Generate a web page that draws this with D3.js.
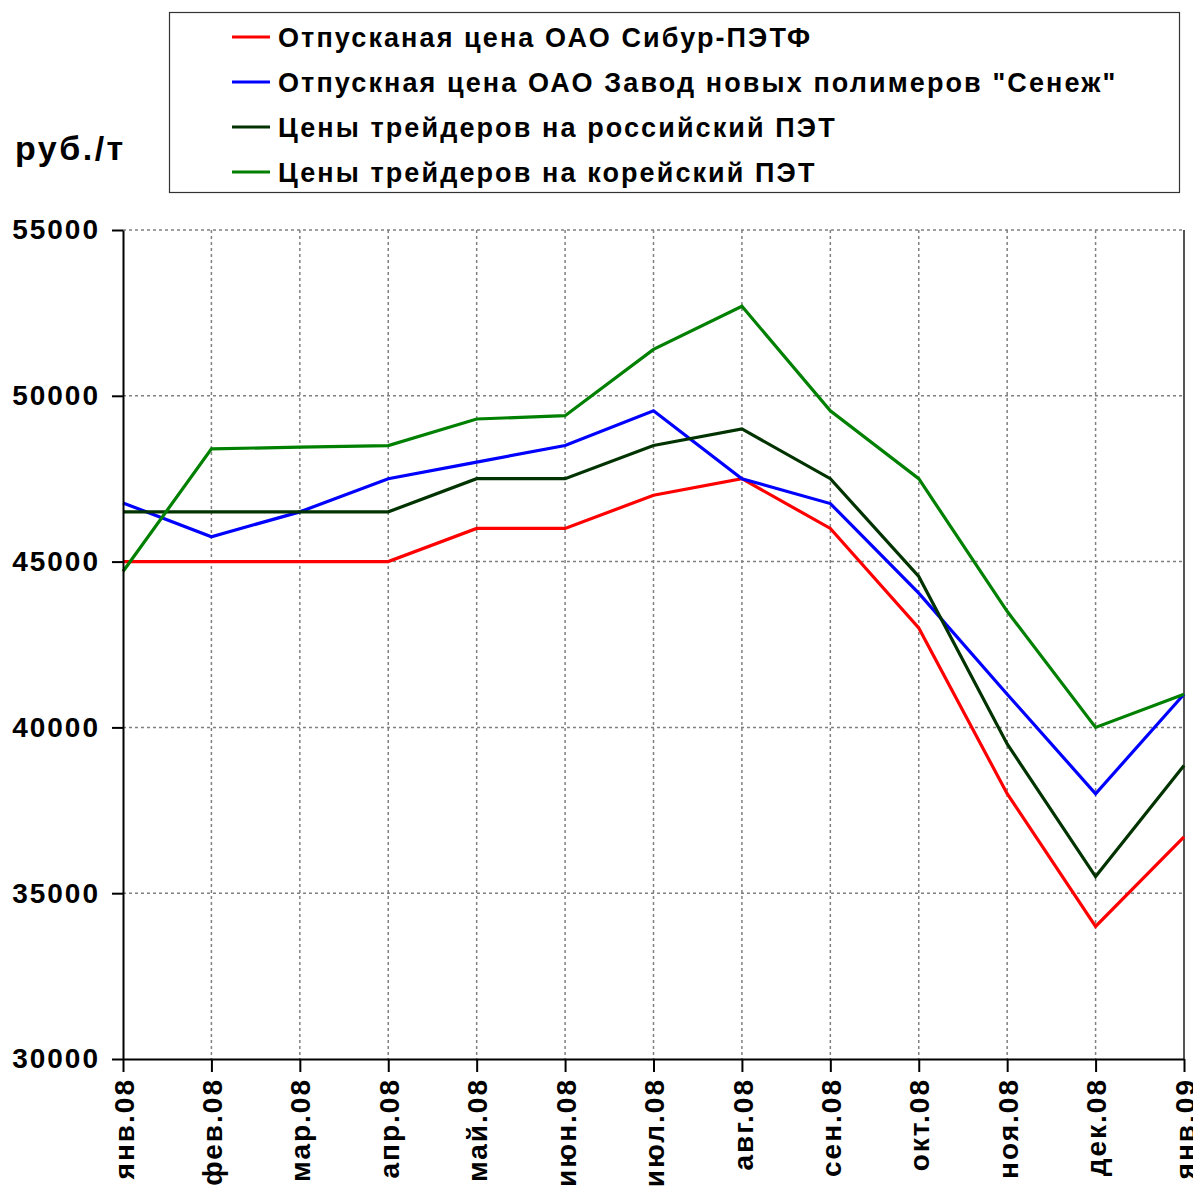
<!DOCTYPE html>
<html>
<head>
<meta charset="utf-8">
<style>
  body { margin: 0; background: #fff; }
  svg { display: block; font-family: "Liberation Sans", Arial, sans-serif; }
  .grid line { stroke: #808080; stroke-width: 1.5; stroke-dasharray: 3,3; }
  .axis path, .axis line { stroke: #000; stroke-width: 2; }
  .axis text { font-weight: bold; font-size: 28px; fill: #000; letter-spacing: 2px; }
  .legend text { font-weight: bold; font-size: 27px; fill: #000; letter-spacing: 2.1px; }
</style>
<script src="https://d3js.org/d3.v7.min.js"></script>
</head>
<body>
<div class="container"></div>
<script>
  // месяцы
  var months = ["янв.08","фев.08","мар.08","апр.08","май.08","июн.08","июл.08","авг.08","сен.08","окт.08","ноя.08","дек.08","янв.09"];
  var yTicks = [30000, 35000, 40000, 45000, 50000, 55000];

  var sibur   = [45000,45000,45000,45000,46000,46000,47000,47500,46000,43000,38000,34000,36700];
  var senezh  = [46770,45750,46500,47500,48000,48500,49550,47500,46750,44050,41000,38000,41000];
  var rusPet  = [46500,46500,46500,46500,47500,47500,48500,49000,47500,44550,39500,35500,38850];
  var korPet  = [44700,48400,48450,48500,49300,49400,51400,52700,49550,47500,43500,40000,41000];

  var seriesNames = [
    "Отпусканая цена ОАО Сибур-ПЭТФ",
    "Отпускная цена ОАО Завод новых полимеров \"Сенеж\"",
    "Цены трейдеров на российский ПЭТ",
    "Цены трейдеров на корейский ПЭТ"
  ];
  var seriesColors = ["#ff0000", "#0000ff", "#003300", "#008000"];
  var seriesValues = [sibur, senezh, rusPet, korPet];

  var width = 1193, height = 1188;
  var plot = {left: 123, right: 1184, top: 230, bottom: 1059};

  var svg = d3.select(".container").append("svg")
    .attr("width", width).attr("height", height);

  var x = d3.scalePoint().domain(months).range([plot.left, plot.right]).padding(0);
  var y = d3.scaleLinear().domain([30000, 55000]).range([plot.bottom, plot.top]);

  // сетка
  var grid = svg.append("g").attr("class", "grid");
  grid.selectAll(".gy").data(yTicks.slice(1)).enter().append("line")
    .attr("x1", plot.left).attr("x2", plot.right)
    .attr("y1", d => y(d)).attr("y2", d => y(d));
  grid.selectAll(".gx").data(months.slice(1)).enter().append("line")
    .attr("x1", d => x(d)).attr("x2", d => x(d))
    .attr("y1", plot.top).attr("y2", plot.bottom);

  // правая граница
  svg.append("line")
    .attr("x1", plot.right).attr("x2", plot.right)
    .attr("y1", plot.top).attr("y2", plot.bottom)
    .attr("stroke", "#555").attr("stroke-width", 2);

  // линии
  var line = d3.line().x((d, i) => x(months[i])).y(d => y(d));
  svg.append("g").selectAll("path").data(seriesValues).enter().append("path")
    .attr("d", line)
    .attr("fill", "none")
    .attr("stroke", (d, i) => seriesColors[i])
    .attr("stroke-width", 3.2)
    .attr("stroke-linejoin", "miter");

  // оси
  var yAxis = svg.append("g").attr("class", "axis")
    .attr("transform", "translate(" + plot.left + ",0)")
    .call(d3.axisLeft(y).tickValues(yTicks).tickFormat(d3.format("d")).tickSize(11).tickSizeOuter(0).tickPadding(12));

  var xAxis = svg.append("g").attr("class", "axis")
    .attr("transform", "translate(0," + plot.bottom + ")")
    .call(d3.axisBottom(x).tickSize(13).tickSizeOuter(0));
  xAxis.selectAll("text")
    .attr("transform", "rotate(-90)")
    .attr("text-anchor", "end")
    .attr("x", -19).attr("y", 0).attr("dy", "0.36em");

  // подпись оси
  svg.append("text")
    .attr("x", 15).attr("y", 160)
    .attr("font-size", "34px").attr("font-weight", "bold")
    .attr("letter-spacing", "2.5px")
    .text("руб./т");

  // легенда
  var legend = svg.append("g").attr("class", "legend");
  legend.append("rect")
    .attr("x", 169.5).attr("y", 12.5).attr("width", 1010).attr("height", 180)
    .attr("fill", "#fff").attr("stroke", "#333").attr("stroke-width", 1.2);
  var items = legend.selectAll(".item").data(seriesNames).enter().append("g")
    .attr("transform", (d, i) => "translate(0," + (37 + i * 45) + ")");
  items.append("line")
    .attr("x1", 232).attr("x2", 270).attr("y1", 0).attr("y2", 0)
    .attr("stroke", (d, i) => seriesColors[i]).attr("stroke-width", 3.2);
  items.append("text")
    .attr("x", 278).attr("y", 0).attr("dy", "0.36em")
    .text(d => d);
</script>
</body>
</html>
